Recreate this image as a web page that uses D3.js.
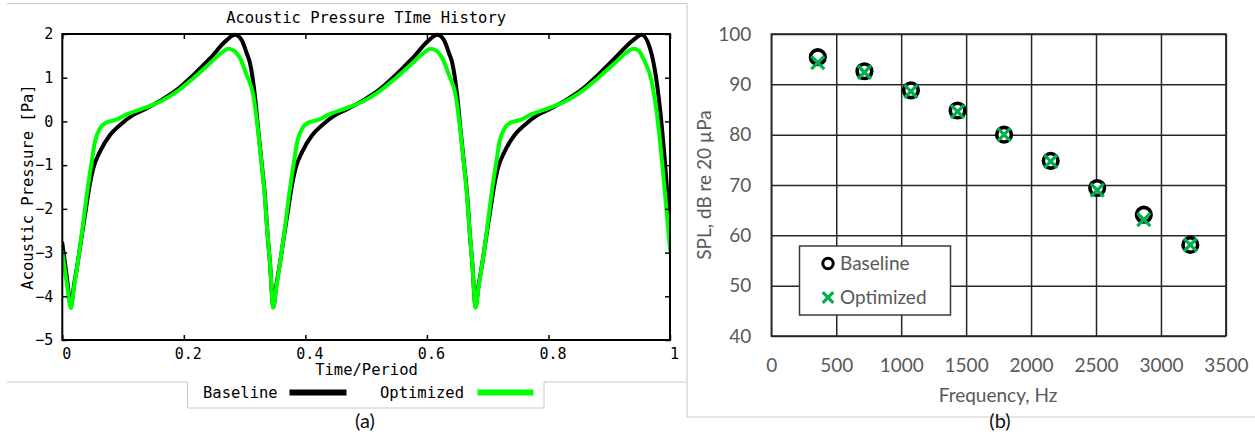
<!DOCTYPE html>
<html>
<head>
<meta charset="utf-8">
<script src="https://cdn.jsdelivr.net/npm/d3@7"></script>
<style>
  html, body { margin: 0; padding: 0; background: #fff; }
  svg { display: block; }
</style>
</head>
<body>
<svg id="chart" width="1255" height="436"></svg>
<script>
// ---- (a) acoustic pressure time history ----
const timeBaseline = [
  0, 0.0069, 0.0143, 0.0192, 0.0237, 0.0319, 0.0402, 0.0456, 0.0510, 0.0620, 0.0785, 0.0950,
  0.1168, 0.1389, 0.1608, 0.1883, 0.2156, 0.2430, 0.2705, 0.2842, 0.2952, 0.3034,
  0.3089, 0.3171, 0.3225, 0.3281, 0.3336, 0.3373, 0.3418, 0.3472,
  0.3521, 0.3566, 0.3648, 0.3731, 0.3785, 0.3839, 0.3949, 0.4114, 0.4279, 0.4497, 0.4718,
  0.4937, 0.5212, 0.5485, 0.5759, 0.6034, 0.6171, 0.6281, 0.6363, 0.6418, 0.6500,
  0.6554, 0.6610, 0.6665, 0.6702, 0.6747, 0.6801,
  0.6850, 0.6895, 0.6977, 0.7060, 0.7114, 0.7168, 0.7278, 0.7443, 0.7608, 0.7826, 0.8047,
  0.8266, 0.8541, 0.8814, 0.9088, 0.9395, 0.9534, 0.9671, 0.9781, 0.9863, 0.9934,
  0.9988, 1.0
];
const pressureBaseline = [
  -2.78, -3.50, -4.22, -3.75, -3.38, -2.63, -1.88, -1.42, -1.07, -0.69, -0.31, -0.08,
  0.15, 0.30, 0.47, 0.72, 1.06, 1.44, 1.86, 1.98, 1.86, 1.56,
  1.33, 0.57, -0.20, -0.96, -1.72, -2.49, -3.25, -4.24,
  -3.75, -3.38, -2.63, -1.88, -1.42, -1.07, -0.69, -0.31, -0.08, 0.15, 0.30,
  0.47, 0.72, 1.06, 1.44, 1.86, 1.98, 1.86, 1.56, 1.33, 0.57,
  -0.20, -0.96, -1.72, -2.49, -3.25, -4.24,
  -3.75, -3.38, -2.63, -1.88, -1.42, -1.07, -0.69, -0.31, -0.08, 0.15, 0.30,
  0.47, 0.72, 1.06, 1.44, 1.86, 1.98, 1.67, 0.91, -0.08, -1.23,
  -2.37, -2.75
];
const timeOptimized = [
  0, 0.0069, 0.0143, 0.0192, 0.0237, 0.0319, 0.0402, 0.0484, 0.0538, 0.0620, 0.0731,
  0.0867, 0.1060, 0.1333, 0.1608, 0.1883, 0.2156, 0.2430, 0.2628, 0.2727, 0.2814,
  0.2924, 0.3034, 0.3143, 0.3220, 0.3278, 0.3332, 0.3372, 0.3418, 0.3472,
  0.3521, 0.3566, 0.3648, 0.3731, 0.3813, 0.3867, 0.3949, 0.4060, 0.4196, 0.4389,
  0.4662, 0.4937, 0.5212, 0.5485, 0.5759, 0.5957, 0.6056, 0.6143, 0.6253, 0.6363,
  0.6472, 0.6549, 0.6607, 0.6661, 0.6701, 0.6747, 0.6801,
  0.6850, 0.6895, 0.6977, 0.7060, 0.7142, 0.7196, 0.7278, 0.7389, 0.7525, 0.7718,
  0.7991, 0.8266, 0.8541, 0.8814, 0.9088, 0.9286, 0.9396, 0.9483, 0.9561, 0.9699,
  0.9807, 0.9890, 0.9955, 1.0
];
const pressureOptimized = [
  -3.00, -3.65, -4.27, -3.80, -3.40, -2.60, -1.69, -0.92, -0.46, -0.16, -0.02,
  0.03, 0.16, 0.30, 0.45, 0.68, 0.99, 1.33, 1.58, 1.66, 1.63,
  1.45, 1.06, 0.60, -0.20, -0.96, -1.72, -2.49, -3.25, -4.26,
  -3.80, -3.40, -2.60, -1.69, -0.92, -0.46, -0.16, -0.02, 0.03, 0.16,
  0.30, 0.45, 0.68, 0.99, 1.33, 1.58, 1.66, 1.63, 1.45, 1.06,
  0.60, -0.20, -0.96, -1.72, -2.49, -3.25, -4.26,
  -3.80, -3.40, -2.60, -1.69, -0.92, -0.46, -0.16, -0.02, 0.03, 0.16,
  0.30, 0.45, 0.68, 0.99, 1.33, 1.58, 1.66, 1.62, 1.44, 0.91,
  -0.08, -1.23, -2.22, -2.94
];
const timeTicks = [0, 0.2, 0.4, 0.6, 0.8, 1];
const pressureTicks = [-5, -4, -3, -2, -1, 0, 1, 2];

// ---- (b) SPL spectrum ----
const freqHz = [358, 717, 1075, 1434, 1792, 2151, 2509, 2868, 3226];
const splBaseline = [95.4, 92.6, 88.8, 84.8, 80.0, 74.8, 69.4, 64.1, 58.1];
const splOptimized = [94.3, 92.4, 88.6, 84.6, 80.0, 74.7, 69.0, 63.1, 58.1];
const freqTicks = [0, 500, 1000, 1500, 2000, 2500, 3000, 3500];
const splTicks = [40, 50, 60, 70, 80, 90, 100];

const svg = d3.select("#chart");

// light panel frames
const frame = svg.append("g").attr("fill", "none").attr("stroke", "#c8c8c8").attr("stroke-width", 1);
frame.append("path").attr("d", "M7,3.5H687V417H1255");
frame.append("path").attr("d", "M7,382H187.5V408H544V382H687");

// ================= panel (a) =================
const monoFont = "'DejaVu Sans Mono', 'Liberation Mono', monospace";
const xA = d3.scaleLinear().domain([0, 1]).range([62.3, 670]);
const yA = d3.scaleLinear().domain([-5, 2]).range([340, 34]);
const gA = svg.append("g");

const lineA = (ts, vs) => d3.line()
  .x(i => xA(ts[i])).y(i => yA(vs[i]))
  .curve(d3.curveMonotoneX)(d3.range(ts.length));

const clipA = svg.append("clipPath").attr("id", "clipA");
clipA.append("rect").attr("x", xA(0)).attr("y", yA(2) - 3).attr("width", xA(1) - xA(0)).attr("height", yA(-5) - yA(2) + 3);

const curves = gA.append("g").attr("clip-path", "url(#clipA)").attr("fill", "none")
  .attr("stroke-linejoin", "round").attr("stroke-linecap", "round");
curves.append("path").attr("d", lineA(timeBaseline, pressureBaseline))
  .attr("stroke", "#000").attr("stroke-width", 4);
curves.append("path").attr("d", lineA(timeOptimized, pressureOptimized))
  .attr("stroke", "#00ff00").attr("stroke-width", 4);

function styleAxisA(g) {
  g.select(".domain").remove();
  g.selectAll(".tick line").attr("stroke", "#000").attr("stroke-width", 1.5);
  g.selectAll(".tick text").attr("font-family", monoFont).attr("font-size", 15).attr("fill", "#000");
}
gA.append("g").attr("transform", `translate(0,${yA(-5)})`)
  .call(d3.axisBottom(xA).tickValues(timeTicks).tickFormat(d3.format("")).tickSize(-5).tickPadding(8))
  .call(styleAxisA).call(g => g.selectAll(".tick text").attr("dx", 4));
gA.append("g").attr("transform", `translate(0,${yA(2)})`)
  .call(d3.axisTop(xA).tickValues(timeTicks).tickFormat("").tickSize(-5))
  .call(styleAxisA);
gA.append("g").attr("transform", `translate(${xA(0)},0)`)
  .call(d3.axisLeft(yA).tickValues(pressureTicks).tickFormat(d => d < 0 ? "\u2212" + Math.abs(d) : d).tickSize(-5).tickPadding(9))
  .call(styleAxisA);
gA.append("g").attr("transform", `translate(${xA(1)},0)`)
  .call(d3.axisRight(yA).tickValues(pressureTicks).tickFormat("").tickSize(-5))
  .call(styleAxisA);
gA.append("rect").attr("x", xA(0)).attr("y", yA(2)).attr("width", xA(1) - xA(0)).attr("height", yA(-5) - yA(2))
  .attr("fill", "none").attr("stroke", "#000").attr("stroke-width", 2);

gA.append("text").attr("x", (xA(0) + xA(1)) / 2).attr("y", 17.5).attr("dy", "0.35em")
  .attr("text-anchor", "middle").attr("font-family", monoFont).attr("font-size", 15.5)
  .text("Acoustic Pressure TIme History");
gA.append("text").attr("x", 366.5).attr("y", 370).attr("dy", "0.35em")
  .attr("text-anchor", "middle").attr("font-family", monoFont).attr("font-size", 15.5)
  .text("Time/Period");
gA.append("text").attr("transform", `translate(27.5,${(yA(2) + yA(-5)) / 2}) rotate(-90)`).attr("dy", "0.35em")
  .attr("text-anchor", "middle").attr("font-family", monoFont).attr("font-size", 15.5)
  .text("Acoustic Pressure [Pa]");

// legend for (a)
const legA = gA.append("g").attr("font-family", monoFont).attr("font-size", 15.5);
legA.append("text").attr("x", 203).attr("y", 392.5).attr("dy", "0.35em").text("Baseline");
legA.append("line").attr("x1", 289.5).attr("x2", 346.5).attr("y1", 392.5).attr("y2", 392.5)
  .attr("stroke", "#000").attr("stroke-width", 6);
legA.append("text").attr("x", 380).attr("y", 392.5).attr("dy", "0.35em").text("Optimized");
legA.append("line").attr("x1", 477.5).attr("x2", 533.5).attr("y1", 392.5).attr("y2", 392.5)
  .attr("stroke", "#00ff00").attr("stroke-width", 6);

svg.append("text").attr("x", 365).attr("y", 421).attr("dy", "0.35em").attr("text-anchor", "middle")
  .attr("font-family", "Lato, 'Open Sans', sans-serif").attr("font-size", 20).attr("fill", "#111").text("(a)");

// ================= panel (b) =================
const sansFont = "Lato, 'Open Sans', sans-serif";
const xB = d3.scaleLinear().domain([0, 3500]).range([771.3, 1225.9]);
const yB = d3.scaleLinear().domain([40, 100]).range([336, 34]);
const gB = svg.append("g");
const gridColor = "#262626";

function styleAxisB(g) {
  g.select(".domain").remove();
  g.selectAll(".tick line").attr("stroke", gridColor).attr("stroke-width", 1.5);
  g.selectAll(".tick text").attr("font-family", sansFont).attr("font-size", 19).attr("fill", "#595959");
}
gB.append("g").attr("transform", `translate(0,${yB(40)})`)
  .call(d3.axisBottom(xB).tickValues(freqTicks).tickFormat(d3.format("d"))
    .tickSize(-(yB(40) - yB(100))).tickPadding(23))
  .call(styleAxisB);
gB.append("g").attr("transform", `translate(${xB(0)},0)`)
  .call(d3.axisLeft(yB).tickValues(splTicks).tickFormat(d3.format("d"))
    .tickSize(-(xB(3500) - xB(0))).tickPadding(20))
  .call(styleAxisB);
gB.append("rect").attr("x", xB(0)).attr("y", yB(100)).attr("width", xB(3500) - xB(0)).attr("height", yB(40) - yB(100))
  .attr("fill", "none").attr("stroke", gridColor).attr("stroke-width", 1.5);

gB.append("text").attr("x", 998).attr("y", 395).attr("dy", "0.35em").attr("text-anchor", "middle")
  .attr("font-family", sansFont).attr("font-size", 19).attr("fill", "#595959").text("Frequency, Hz");
gB.append("text").attr("transform", `translate(704,${(yB(100) + yB(40)) / 2}) rotate(-90)`).attr("dy", "0.35em")
  .attr("text-anchor", "middle").attr("font-family", sansFont).attr("font-size", 19).attr("fill", "#595959")
  .text("SPL, dB re 20 µPa");

const xMark = (g, cx, cy, h) => g.append("path")
  .attr("d", `M${cx - h},${cy - h}L${cx + h},${cy + h}M${cx - h},${cy + h}L${cx + h},${cy - h}`)
  .attr("stroke", "#00b050").attr("stroke-width", 3.2).attr("fill", "none");

const marks = gB.append("g");
freqHz.forEach((f, i) => {
  marks.append("circle").attr("cx", xB(f)).attr("cy", yB(splBaseline[i])).attr("r", 7.3)
    .attr("fill", "#fff").attr("stroke", "#000").attr("stroke-width", 3.6);
});
freqHz.forEach((f, i) => {
  xMark(marks, xB(f), yB(splOptimized[i]), 6.5);
});

// legend for (b)
const legB = gB.append("g");
legB.append("rect").attr("x", 799.5).attr("y", 246).attr("width", 151).attr("height", 69)
  .attr("fill", "#fff").attr("stroke", "#3a3a3a").attr("stroke-width", 1.5);
legB.append("circle").attr("cx", 828).attr("cy", 263.5).attr("r", 5.2)
  .attr("fill", "#fff").attr("stroke", "#000").attr("stroke-width", 3);
xMark(legB, 828, 297.5, 5.3);
legB.append("text").attr("x", 840).attr("y", 263.5).attr("dy", "0.35em")
  .attr("font-family", sansFont).attr("font-size", 19).attr("fill", "#595959").text("Baseline");
legB.append("text").attr("x", 840).attr("y", 297.5).attr("dy", "0.35em")
  .attr("font-family", sansFont).attr("font-size", 19).attr("fill", "#595959").text("Optimized");

svg.append("text").attr("x", 1000).attr("y", 421).attr("dy", "0.35em").attr("text-anchor", "middle")
  .attr("font-family", sansFont).attr("font-size", 20).attr("fill", "#111").text("(b)");
</script>
</body>
</html>
